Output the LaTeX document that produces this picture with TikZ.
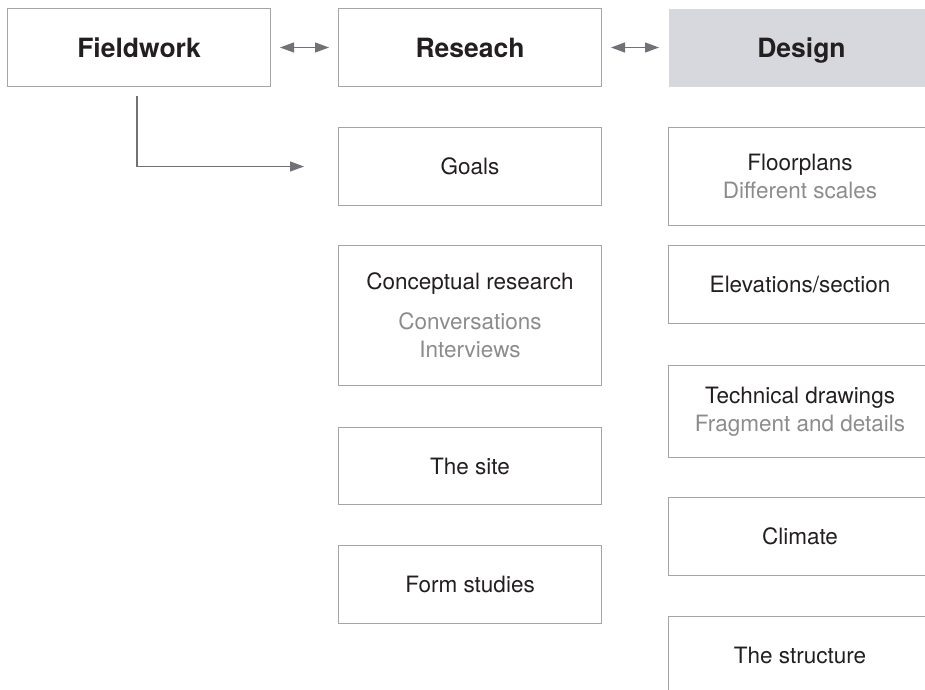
\documentclass[tikz,border=0pt]{standalone}
\usepackage{fontspec}
\setmainfont{TeX Gyre Heros}
\usetikzlibrary{positioning,arrows.meta}

\definecolor{boxline}{RGB}{165,165,165}
\definecolor{ink}{RGB}{35,31,32}
\definecolor{subink}{RGB}{140,140,140}
\definecolor{arrowgray}{RGB}{112,114,120}
\definecolor{designfill}{RGB}{214,216,221}

\begin{document}
\begin{tikzpicture}[x=1pt, y=1pt,
    box/.style={draw=boxline, line width=1pt, minimum width=263pt,
        minimum height=78pt, inner sep=0pt, align=center, text=ink,
        anchor=north west, font=\fontsize{22.5}{28}\selectfont},
    head/.style={box, font=\fontsize{26.5}{30}\selectfont\bfseries,
        text height=19pt, text depth=0pt},
    link/.style={draw=arrowgray, line width=1.2pt, {Triangle[length=14pt, width=10pt]}-{Triangle[length=14pt, width=10pt]},
        shorten <=9pt, shorten >=9pt},
    feed/.style={draw=arrowgray, line width=1.2pt, -{Triangle[length=14pt, width=10pt]}}
]

    % Page size and cut-off at the right edge
    \useasboundingbox (0,0) rectangle (925,-689);
    \clip (0,0) rectangle (925,-689);

    % Column positions
    \def\colA{7}
    \def\colB{338}
    \def\colC{668}

    % Top row
    \node[head] (fieldwork) at (\colA,-8) {Fieldwork};
    \node[head] (research) at (\colB,-8) {Reseach};
    \node[head, draw=none, fill=designfill, minimum width=266pt] (design) at (\colC,-8) {Design};

    % Research column
    \node[box] (goals) at (\colB,-127) {Goals};
    \node[box, minimum height=140pt] (concept) at (\colB,-245)
        {Conceptual research\\[12pt]\color{subink}Conversations\\\color{subink}Interviews};
    \node[box, minimum height=77pt] (site) at (\colB,-427) {The site};
    \node[box] (form) at (\colB,-545) {Form studies};

    % Design column
    \node[box, minimum height=98pt] (floor) at (\colC,-127)
        {Floorplans\\\color{subink}Different scales};
    \node[box] (elev) at (\colC,-245) {Elevations/section};
    \node[box, minimum height=92pt] (tech) at (\colC,-365)
        {Technical drawings\\\color{subink}Fragment and details};
    \node[box] (climate) at (\colC,-497) {Climate};
    \node[box] (struct) at (\colC,-616) {The structure};

    % Connectors
    \draw[link] (fieldwork.east) -- (research.west);
    \draw[link] (research.east) -- (design.west);
    \draw[feed, shorten <=9pt, shorten >=34pt] ([xshift=-2pt]fieldwork.south) |- (goals.west);

\end{tikzpicture}
\end{document}
